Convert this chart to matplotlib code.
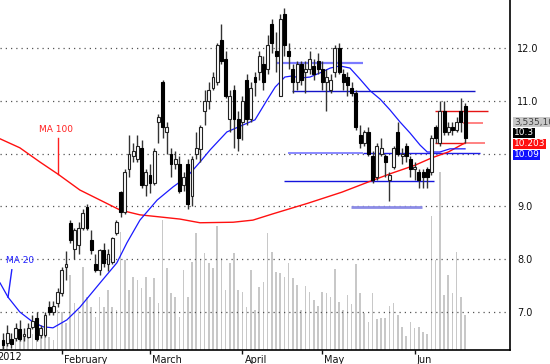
import matplotlib
matplotlib.use("Agg")
import matplotlib.pyplot as plt
import matplotlib.transforms as mtransforms
import numpy as np

# ---------------- data ----------------
opens = [6.47,6.41,6.49,6.51,6.68,6.55,6.53,6.72,6.89,6.56,6.57,7.09,7.00,7.17,7.36,7.85,8.68,8.20,8.27,8.60,
         8.99,8.36,7.90,7.80,8.18,7.90,7.95,8.50,9.27,8.90,9.70,9.95,9.90,10.10,9.40,9.60,9.45,10.60,11.35,10.40,
         10.00,9.80,9.80,9.40,9.80,9.20,10.00,10.08,10.80,11.00,11.25,11.35,12.15,11.80,10.65,11.20,10.65,10.60,11.40,10.65,
         11.45,11.55,11.70,11.60,12.45,11.95,11.10,12.65,11.95,11.60,11.35,11.70,11.55,11.60,11.65,11.75,11.60,11.35,11.20,11.55,
         12.00,11.50,11.45,11.25,11.15,10.35,10.20,10.40,9.95,9.55,10.00,9.95,9.50,9.75,10.40,9.95,10.15,9.90,9.70,9.65,
         9.65,9.70,9.65,10.50,10.20,10.80,10.40,10.50,10.45,10.80,10.90]
highs = [6.60,6.75,6.60,6.80,6.85,6.70,6.80,6.95,7.00,6.75,7.00,7.20,7.20,7.45,7.85,8.15,8.75,8.60,8.70,8.95,
         9.05,8.55,8.10,8.20,8.30,8.20,8.42,8.75,9.30,9.70,10.35,10.20,10.35,10.25,9.70,9.80,10.10,10.75,11.40,10.60,
         10.10,10.05,9.95,9.65,9.90,9.95,10.40,10.55,11.20,11.35,11.55,12.10,12.45,11.95,11.20,11.30,10.80,11.10,11.50,11.35,
         11.55,11.95,11.85,12.25,12.55,12.30,12.65,12.75,12.10,11.70,11.75,11.75,11.75,11.95,11.80,11.90,11.75,11.60,11.50,12.05,
         12.10,11.60,11.55,11.35,11.20,10.55,10.45,10.50,10.05,10.20,10.30,10.00,9.65,10.15,10.60,10.10,10.20,9.95,9.85,9.70,
         9.70,9.75,10.35,10.55,11.00,11.00,10.60,10.60,10.70,11.05,10.95]
lows = [6.30,6.35,6.32,6.45,6.45,6.45,6.50,6.68,6.45,6.50,6.52,6.95,6.95,7.10,7.30,7.60,8.30,8.00,8.10,8.55,
        8.55,8.10,7.75,7.70,7.85,7.78,7.90,8.45,8.80,8.85,9.55,9.85,9.85,9.35,9.20,9.25,9.40,10.20,10.30,10.00,
        9.55,9.70,9.25,9.30,8.95,9.00,9.90,9.85,10.55,10.85,11.20,11.30,11.70,11.05,10.40,10.10,10.05,10.25,10.55,10.60,
        11.10,11.40,11.20,11.50,11.90,11.55,11.10,11.85,11.60,11.15,11.20,11.30,11.15,11.50,11.40,11.50,11.20,10.80,11.15,11.45,
        11.50,11.20,11.10,11.10,10.45,10.10,10.15,9.95,9.45,9.50,9.95,9.55,9.10,9.70,9.95,9.80,9.85,9.55,9.50,9.35,
        9.35,9.35,9.60,10.20,10.15,10.35,10.35,10.35,10.40,10.40,10.20]
closes = [6.38,6.60,6.39,6.70,6.49,6.58,6.70,6.82,6.49,6.69,6.95,7.00,7.12,7.38,7.80,7.90,8.36,8.55,8.60,8.88,
          8.60,8.18,7.80,8.18,7.93,8.10,8.40,8.70,8.90,9.65,10.00,10.05,10.15,9.40,9.65,9.45,10.05,10.70,10.50,10.50,
          9.80,9.90,9.30,9.55,9.05,9.90,10.10,10.50,11.00,11.20,11.45,12.05,11.75,11.10,11.10,10.65,10.30,11.00,10.65,11.25,
          11.35,11.85,11.35,12.05,12.10,11.85,12.55,12.05,11.85,11.35,11.70,11.40,11.60,11.80,11.50,11.60,11.35,11.45,11.40,12.00,
          11.55,11.35,11.30,11.15,10.50,10.20,10.40,10.00,9.50,10.15,10.10,9.85,9.60,10.10,10.00,10.00,9.95,9.70,9.75,9.50,
          9.55,9.55,10.30,10.30,10.80,10.40,10.50,10.45,10.60,10.60,10.30]
volumes_m = [1.0,1.3,1.1,1.5,1.2,1.3,2.0,1.6,2.2,1.4,2.5,1.3,1.0,4.0,3.8,2.7,7.5,4.7,4.0,8.3,
             5.3,4.3,3.3,5.3,4.3,6.0,4.3,4.0,11.8,9.0,6.0,7.3,7.0,6.2,7.3,5.3,7.2,4.7,13.0,8.2,
             5.7,5.3,3.3,8.0,5.3,8.8,11.7,9.0,9.7,8.7,8.2,12.4,9.2,6.0,8.7,9.7,6.0,5.8,4.3,8.0,
             4.0,6.3,6.8,11.7,9.8,7.8,7.7,7.3,8.7,7.2,6.5,4.0,6.4,5.8,5.0,4.4,5.8,5.7,5.3,8.1,
             4.8,4.0,5.5,4.6,8.6,5.7,3.7,2.8,5.7,3.1,3.2,3.2,4.4,4.7,3.5,2.3,1.4,2.8,2.2,2.3,
             1.8,1.6,13.4,9.0,17.8,5.5,7.5,5.7,9.8,5.3,3.5]

ma20_idx = [-0.7,1.2,4.0,7.1,9.5,11.9,15.2,18.3,23.1,27.1,29.5,32.6,36.7,40.5,43.8,46.9,49.3,53.3,60.0,62.9,
            64.8,67.1,68.8,70.7,73.1,75.5,77.9,80.2,82.6,85.0,87.4,89.8,92.1,94.5,96.9,99.3,101.0,104.0,106.4,110.0]
ma20 = [7.55,7.28,7.00,6.81,6.72,6.70,6.85,7.09,7.55,7.93,8.31,8.74,9.12,9.37,9.56,9.84,10.07,10.41,10.64,11.02,
        11.26,11.45,11.47,11.43,11.45,11.53,11.62,11.66,11.62,11.41,11.19,11.03,10.83,10.60,10.39,10.16,10.03,10.03,10.09,10.09]
ma100_idx = [-0.7,4.0,8.8,13.1,18.3,23.1,27.9,32.6,37.4,42.1,46.9,54.8,59.5,64.3,72.6,80.7,86.9,92.6,98.1,102.1,106.0,110.0]
ma100 = [10.28,10.11,9.84,9.61,9.31,9.12,8.93,8.84,8.80,8.76,8.69,8.70,8.74,8.86,9.06,9.27,9.46,9.63,9.78,9.92,10.03,10.203]

month_pos = [14, 35, 57, 76, 98]
month_names = ["February", "March", "April", "May", "Jun"]
price_ticks = [7.0, 8.0, 9.0, 10.0, 11.0, 12.0]
price_labels = ["7.0", "8.0", "9.0", "", "11.0", "12.0"]

# drawn levels: (price, start idx, end idx, colour, width)
levels = [(11.72, 65.2, 85.7, "#7b7bff", 1.6),
          (11.19, 68.8, 112.4, "#1414c8", 1.0),
          (10.01, 67.9, 85.7, "#8080ff", 1.3),
          (10.01, 85.7, 113.6, "#1e1ee6", 1.0),
          (9.48, 66.9, 102.6, "#1414dc", 1.0),
          (8.99, 82.9, 99.8, "#8c8ce6", 2.0),
          (10.81, 102.9, 115.5, "#e61414", 1.0),
          (10.58, 109.5, 114.3, "#ff7878", 1.3),
          (10.20, 102.9, 110.0, "#e61414", 1.0),
          (10.20, 110.0, 114.8, "#ff7878", 1.3)]

last_volume_label = "3,535,100"
last_close_label = "10.3"
ma100_label = "10.203"
ma20_label = "10.09"

# ---------------- figure ----------------
W, H = 550, 364
fig = plt.figure(figsize=(W / 100, H / 100), dpi=100)
rect = [0, 14 / H, 510 / W, 350 / H]
axv = fig.add_axes(rect)
ax = fig.add_axes(rect, sharex=axv)
ax.patch.set_alpha(0)

n = len(closes)
x = np.arange(n)
xlim = (-0.714, 120.7)
axv.set_xlim(*xlim)
axv.set_ylim(0, 35)
axv.bar(x, volumes_m, width=0.38, color="#c8c8c8", linewidth=0)
axv.axis("off")

ax.set_ylim(6.28, 12.909)
for s in ["left", "top"]:
    ax.spines[s].set_visible(False)
for s in ["right", "bottom"]:
    ax.spines[s].set_linewidth(1.2)
    ax.spines[s].set_color("black")

# grid
for p in price_ticks:
    ax.plot([xlim[0], 119.7], [p, p], color="#555555", lw=0.9,
            linestyle=(0, (1, 3.2)), zorder=1)

# levels
for p, a, b, c, w in levels:
    ax.plot([a, b], [p, p], color=c, lw=w, zorder=2, solid_capstyle="butt")

# moving averages
ax.plot(ma100_idx, ma100, color="#ff1010", lw=1.0, zorder=3)
ax.plot(ma20_idx, ma20, color="#1a1aff", lw=0.9, zorder=3)

# candles
o = np.array(opens); c = np.array(closes); hi = np.array(highs); lo = np.array(lows)
ax.vlines(x, lo, hi, color="#333333", lw=1.0, zorder=4)
up = c >= o
bottoms = np.minimum(o, c)
heights = np.maximum(np.abs(c - o), 0.02)
ax.bar(x[up], heights[up], bottom=bottoms[up], width=0.7, color="white",
       edgecolor="#222222", linewidth=0.8, zorder=5)
ax.bar(x[~up], heights[~up], bottom=bottoms[~up], width=0.7, color="black",
       edgecolor="black", linewidth=0.8, zorder=5)

# annotations
ax.text(12.5, 10.46, "MA 100", color="#ff2020", fontsize=6.5, ha="center", va="center")
ax.plot([13.1, 13.1], [10.3, 9.61], color="#ff2020", lw=1.0)
ax.text(4.0, 7.97, "MA 20", color="#2020ff", fontsize=6.5, ha="center", va="center")
ax.plot([2.1, 1.2], [7.8, 7.28], color="#2020ff", lw=1.0)

# ticks
ax.yaxis.tick_right()
ax.set_yticks(price_ticks)
ax.set_yticklabels(price_labels)
ax.tick_params(axis="y", length=0, pad=5, labelsize=7, colors="#111111")
ax.set_xticks(month_pos)
ax.set_xticklabels(month_names, ha="left")
ax.tick_params(axis="x", length=3, width=1, pad=0.5, labelsize=7, colors="#111111")
offset = mtransforms.ScaledTranslation(1.5 / 72, 0, fig.dpi_scale_trans)
for lab in ax.get_xticklabels():
    lab.set_transform(lab.get_transform() + offset)
plt.setp(axv.get_xticklabels(), visible=False)
fig.text(-3 / W, 1 - 357 / H, "2012", fontsize=7, ha="left", va="center", color="#111111")

# right-side value boxes
tr = mtransforms.blended_transform_factory(ax.transAxes, ax.transData)
def box(yv, txt, fc, tc):
    ax.text(1.0 + 4 / 510, yv, txt, transform=tr, fontsize=6.5, color=tc, ha="left", va="center",
            bbox=dict(boxstyle="square,pad=0.06", fc=fc, ec="none"), clip_on=False)
box(10.59, last_volume_label, "#c8c8c8", "#444444")
box(10.39, last_close_label, "black", "white")
box(10.185, ma100_label, "#ff1010", "white")
box(9.975, ma20_label, "#1010ff", "white")

fig.savefig("out.png", dpi=100)
